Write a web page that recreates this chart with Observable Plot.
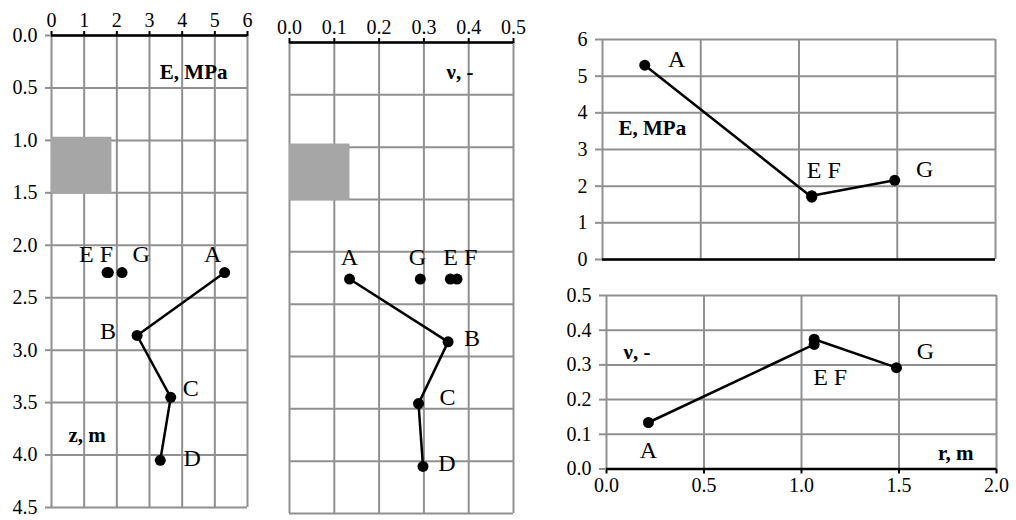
<!DOCTYPE html>
<html><head><meta charset="utf-8">
<script src="https://cdn.jsdelivr.net/npm/d3@7"></script>
<script src="https://cdn.jsdelivr.net/npm/@observablehq/plot@0.6"></script>
<style>
body{margin:0;background:#fff;}
#chart{position:relative;width:1016px;height:520px;overflow:hidden;background:#fff;}
#chart svg{position:absolute;}
#chart svg text{font-family:'Liberation Serif','Times New Roman',serif;}
</style></head><body><div id="chart"></div>
<script>
// ---- data ----
const points   = ["A", "B", "C", "D", "E", "F", "G"];
const depth    = [2.26, 2.86, 3.45, 4.05, 2.26, 2.26, 2.26];   // z, m
const modulusE = [5.30, 2.62, 3.65, 3.33, 1.70, 1.74, 2.16];   // E, MPa
const poisson  = [0.134, 0.354, 0.288, 0.298, 0.359, 0.374, 0.292]; // nu, -
const radius   = [0.215, null, null, null, 1.065, 1.065, 1.487]; // r, m
const profilePoints = ["A", "B", "C", "D"];
const radialPoints  = ["A", "E", "F", "G"];
const blockDepth = [0.97, 1.51];
const blockE  = 1.85;
const blockNu = 0.135;
const eTicksDepth = [0, 1, 2, 3, 4, 5, 6];
const nuTicksDepth = [0, 0.1, 0.2, 0.3, 0.4, 0.5];
const zTicks = [0, 0.5, 1, 1.5, 2, 2.5, 3, 3.5, 4, 4.5];
const eTicksRadial = [0, 1, 2, 3, 4, 5, 6];
const nuTicksRadial = [0, 0.1, 0.2, 0.3, 0.4, 0.5];
const rTicks = [0, 0.5, 1, 1.5, 2];

const rows = points.map((p, i) => ({p, z: depth[i], E: modulusE[i], nu: poisson[i], r: radius[i]}));
const byName = Object.fromEntries(rows.map(d => [d.p, d]));
const profile = profilePoints.map(p => byName[p]);
const radial = radialPoints.map(p => byName[p]);
const block = [{E1: 0, E2: blockE, n1: 0, n2: blockNu, z1: blockDepth[0], z2: blockDepth[1]}];

const GRID = "#909090";
const FONT = "'Liberation Serif', 'Times New Roman', serif";
const TICK = 20, LAB = 24, BOLD = 21;
const LINE_W = 2.5;
const chart = document.getElementById("chart");
const style = {background: "transparent", fontFamily: FONT, fontSize: TICK + "px", overflow: "visible", color: "black"};

function place(svg, left, top) {
  svg.style.left = left + "px"; svg.style.top = top + "px";
  svg.style.maxWidth = "none";
  chart.appendChild(svg);
}
function lab(name, text, dx, dy, xk, yk) {
  return Plot.text([byName[name]], {x: xk, y: yk, text: () => text, dx, dy, fontSize: LAB, fontFamily: FONT, fill: "black"});
}
function note(text, frameAnchor, textAnchor, dx, dy) {
  return Plot.text([text], {frameAnchor, textAnchor, lineAnchor: "middle", dx, dy, text: d => d, fontSize: BOLD, fontFamily: FONT, fontWeight: "bold", fill: "black"});
}
const gridStyle = {stroke: GRID, strokeOpacity: 1, strokeWidth: 2};
const axisText = {fontSize: TICK, fontFamily: FONT, fill: "black", label: null};

// ---- panel 1: E vs depth ----
place(Plot.plot({
  width: 270, height: 520, marginLeft: 51, marginRight: 23, marginTop: 35, marginBottom: 13,
  style,
  x: {domain: [0, 6], axis: null},
  y: {domain: [0, 4.5], reverse: true, axis: null},
  marks: [
    Plot.gridX(eTicksDepth, gridStyle),
    Plot.gridY(zTicks, gridStyle),
    Plot.rect(block, {x1: "E1", x2: "E2", y1: "z1", y2: "z2", fill: "#a6a6a6"}),
    Plot.ruleY([0], {stroke: "black", strokeWidth: 2.5}),
    Plot.axisX(eTicksDepth, {anchor: "top", tickSize: 5, tickPadding: 4, stroke: "black", strokeWidth: 2, ...axisText}),
    Plot.axisY(zTicks, {anchor: "left", tickSize: 6, tickPadding: 8, stroke: GRID, strokeWidth: 2, ...axisText, tickFormat: d3.format(".1f")}),
    Plot.line(profile, {x: "E", y: "z", stroke: "black", strokeWidth: LINE_W}),
    Plot.dot(rows, {x: "E", y: "z", r: 5.5, fill: "black"}),
    lab("A", "A", -12, -18, "E", "z"),
    lab("E", "E F", -11, -18, "E", "z"),
    lab("G", "G", 19, -18, "E", "z"),
    lab("B", "B", -29, -4, "E", "z"),
    lab("C", "C", 20, -9, "E", "z"),
    lab("D", "D", 32, -2, "E", "z"),
    note("E, MPa", "top-right", "end", -20, 37),
    note("z, m", "bottom-left", "start", 17, -72)
  ]
}), 0, 0);

// ---- panel 2: nu vs depth ----
place(Plot.plot({
  width: 270, height: 520, marginLeft: 19, marginRight: 27, marginTop: 42, marginBottom: 7,
  style,
  x: {domain: [0, 0.5], axis: null},
  y: {domain: [0, 4.5], reverse: true, axis: null},
  marks: [
    Plot.gridX(nuTicksDepth, gridStyle),
    Plot.gridY(zTicks, gridStyle),
    Plot.rect(block, {x1: "n1", x2: "n2", y1: "z1", y2: "z2", fill: "#a6a6a6"}),
    Plot.ruleY([0], {stroke: "black", strokeWidth: 2.5}),
    Plot.axisX(nuTicksDepth, {anchor: "top", tickSize: 5, tickPadding: 4, stroke: "black", strokeWidth: 2, ...axisText, tickFormat: d3.format(".1f")}),
    Plot.line(profile, {x: "nu", y: "z", stroke: "black", strokeWidth: LINE_W}),
    Plot.dot(rows, {x: "nu", y: "z", r: 5.5, fill: "black"}),
    lab("A", "A", 0, -22, "nu", "z"),
    lab("G", "G", -3, -22, "nu", "z"),
    lab("E", "E F", 10, -22, "nu", "z"),
    lab("B", "B", 24, -4, "nu", "z"),
    lab("C", "C", 29, -6, "nu", "z"),
    lab("D", "D", 24, -3, "nu", "z"),
    note("ν, -", "top-right", "end", -40, 30)
  ]
}), 270, 0);

// ---- panel 3: E vs r ----
place(Plot.plot({
  width: 476, height: 280, marginLeft: 62, marginRight: 21, marginTop: 39, marginBottom: 21,
  style,
  x: {domain: [0, 2], axis: null},
  y: {domain: [0, 6], axis: null},
  marks: [
    Plot.gridX(rTicks, gridStyle),
    Plot.gridY(eTicksRadial, gridStyle),
    Plot.ruleY([0], {stroke: "black", strokeWidth: 2.5}),
    Plot.axisY(eTicksRadial, {anchor: "left", tickSize: 7, tickPadding: 8, stroke: GRID, strokeWidth: 2, ...axisText}),
    Plot.line(radial, {x: "r", y: "E", stroke: "black", strokeWidth: LINE_W}),
    Plot.dot(radial, {x: "r", y: "E", r: 5.5, fill: "black"}),
    lab("A", "A", 32, -6, "r", "E"),
    lab("E", "E F", 12, -27, "r", "E"),
    lab("G", "G", 30, -11, "r", "E"),
    note("E, MPa", "top-left", "start", 16, 89)
  ]
}), 540, 0);

// ---- panel 4: nu vs r ----
place(Plot.plot({
  width: 476, height: 240, marginLeft: 66, marginRight: 20, marginTop: 15, marginBottom: 51.5,
  style,
  x: {domain: [0, 2], axis: null},
  y: {domain: [0, 0.5], axis: null},
  marks: [
    Plot.gridX(rTicks, gridStyle),
    Plot.gridY(nuTicksRadial, gridStyle),
    Plot.ruleY([0], {stroke: "black", strokeWidth: 2.5}),
    Plot.axisX(rTicks, {anchor: "bottom", tickSize: 5, tickPadding: 4, stroke: "black", strokeWidth: 2, ...axisText, tickFormat: d3.format(".1f")}),
    Plot.axisY(nuTicksRadial, {anchor: "left", tickSize: 7, tickPadding: 8, stroke: GRID, strokeWidth: 2, ...axisText, tickFormat: d3.format(".1f")}),
    Plot.line(radial, {x: "r", y: "nu", stroke: "black", strokeWidth: LINE_W}),
    Plot.dot(radial, {x: "r", y: "nu", r: 5.5, fill: "black"}),
    lab("A", "A", 0, 28, "r", "nu"),
    lab("E", "E F", 16, 33, "r", "nu"),
    lab("G", "G", 29, -16, "r", "nu"),
    note("ν, -", "top-left", "start", 17, 57),
    note("r, m", "bottom-right", "end", -23, -15.5)
  ]
}), 540, 280);
</script></body></html>
